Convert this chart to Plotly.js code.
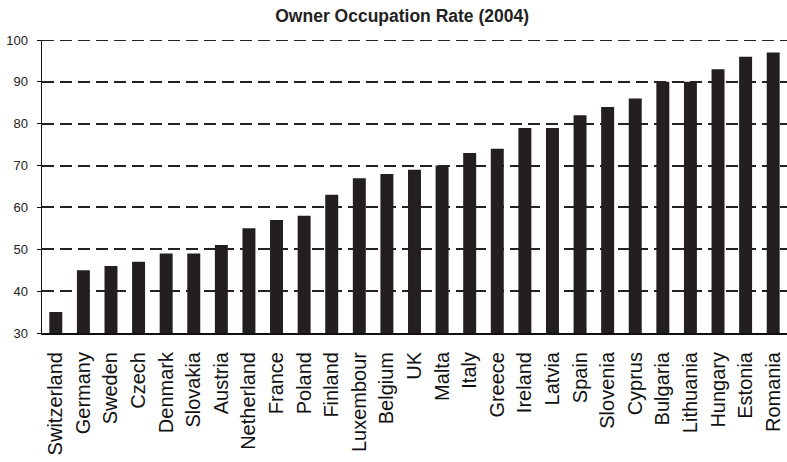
<!DOCTYPE html>
<html><head><meta charset="utf-8">
<script src="https://cdn.plot.ly/plotly-3.0.1.min.js"></script>
<style>body{margin:0;background:#fff}#chart{width:787px;height:462px}</style>
</head><body><div id="chart"></div>
<script>
var countries = ["Switzerland","Germany","Sweden","Czech","Denmark","Slovakia","Austria","Netherland","France","Poland","Finland","Luxembour","Belgium","UK","Malta","Italy","Greece","Ireland","Latvia","Spain","Slovenia","Cyprus","Bulgaria","Lithuania","Hungary","Estonia","Romania"];
var rates = [35,45,46,47,49,49,51,55,57,58,63,67,68,69,70,73,74,79,79,82,84,86,90,90,93,96,97];
var yTicks = [30,40,50,60,70,80,90,100];

var dashStyle = '12px,6px';
Plotly.newPlot('chart', [{
  type: 'bar',
  x: countries,
  y: rates,
  marker: {color: '#231f20'},
  width: 0.47,
  hoverinfo: 'skip'
}], {
  width: 787, height: 462,
  margin: {l: 42, r: 0, t: 40, b: 129},
  paper_bgcolor: '#fff', plot_bgcolor: '#fff',
  showlegend: false,
  title: {text: '<b>Owner Occupation Rate (2004)</b>', x: 0.511, xanchor: 'center', y: 0.966, yanchor: 'middle',
          font: {family: 'Liberation Sans, Arial, sans-serif', size: 17.5, color: '#222'}},
  xaxis: {
    type: 'category', tickangle: -90,
    tickfont: {family: 'Liberation Sans, Arial, sans-serif', size: 20, color: '#111'},
    ticklabelstandoff: 9,
    showline: true, linecolor: '#111', linewidth: 2,
    showgrid: false, ticks: '', ticklen: 0
  },
  yaxis: {
    range: [yTicks[0], yTicks[yTicks.length - 1]], tickvals: yTicks, ticktext: yTicks.map(String),
    tickfont: {family: 'Liberation Sans, Arial, sans-serif', size: 13, color: '#222'},
    ticklabelstandoff: 6,
    showline: true, linecolor: '#111', linewidth: 1.5,
    ticks: 'outside', ticklen: 4, tickcolor: '#111',
    showgrid: true, gridcolor: '#222', gridwidth: 2, griddash: dashStyle,
    zeroline: false
  },
  shapes: [{
    type: 'line', xref: 'paper', yref: 'y', x0: 0, x1: 1,
    y0: yTicks[yTicks.length - 1], y1: yTicks[yTicks.length - 1],
    line: {color: '#222', width: 2, dash: dashStyle}
  }]
}, {staticPlot: true});
</script></body></html>
